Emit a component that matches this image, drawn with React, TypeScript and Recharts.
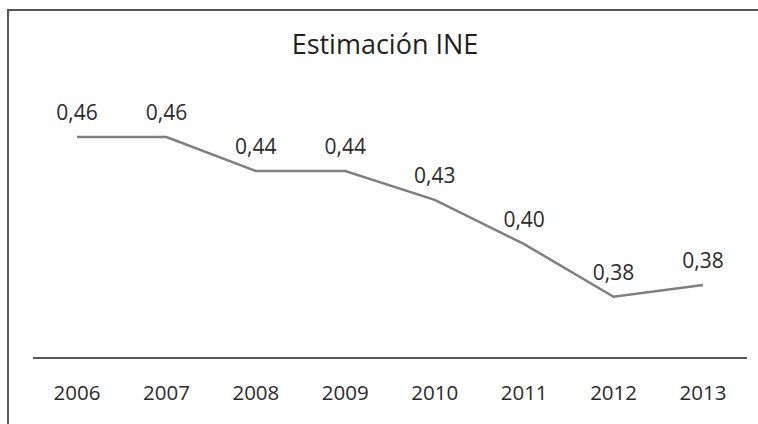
import { LabelList, Line, LineChart, XAxis, YAxis } from "recharts";

// values (plotted positions), labels as printed
const years = ["2006", "2007", "2008", "2009", "2010", "2011", "2012", "2013"];
const ineValues = [0.46, 0.46, 0.44, 0.44, 0.423, 0.397, 0.366, 0.373];
const ineLabels = ["0,46", "0,46", "0,44", "0,44", "0,43", "0,40", "0,38", "0,38"];

const font = "'Open Sans', 'Noto Sans', sans-serif";

export default function App() {
  const data = years.map((year, i) => ({
    year,
    value: ineValues[i],
    label: ineLabels[i],
  }));

  return (
    <>
      <style>{"body{margin:0;overflow:hidden}"}</style>
      <div
        style={{
          position: "absolute",
          left: 7,
          top: 9,
          width: 770,
          height: 430,
          borderLeft: "2px solid #555",
          borderTop: "2px solid #555",
          background: "#fff",
          fontFamily: font,
        }}
      >
        <div
          style={{
            position: "absolute",
            left: 0,
            top: 14,
            width: 752,
            textAlign: "center",
            fontSize: 27,
            color: "#231f20",
          }}
        >
          Estimación INE
        </div>
        <LineChart
          width={750}
          height={414}
          data={data}
          margin={{ top: 92, right: 12, left: 24, bottom: 17 }}
        >
          <XAxis
            dataKey="year"
            axisLine={{ stroke: "#222", strokeWidth: 1.5 }}
            tickLine={false}
            tickMargin={21}
            height={50}
            padding={{ left: 44, right: 44 }}
            tick={{ fill: "#2a2a2a", fontSize: 20.5, fontFamily: font }}
          />
          <YAxis hide domain={[0.33, 0.48]} />
          <Line
            type="linear"
            dataKey="value"
            stroke="#7f7f7f"
            strokeWidth={2.5}
            dot={false}
            activeDot={false}
            isAnimationActive={false}
          >
            <LabelList
              dataKey="label"
              position="top"
              offset={17}
              fill="#2a2a2a"
              fontSize={21}
              fontFamily={font}
            />
          </Line>
        </LineChart>
      </div>
    </>
  );
}
